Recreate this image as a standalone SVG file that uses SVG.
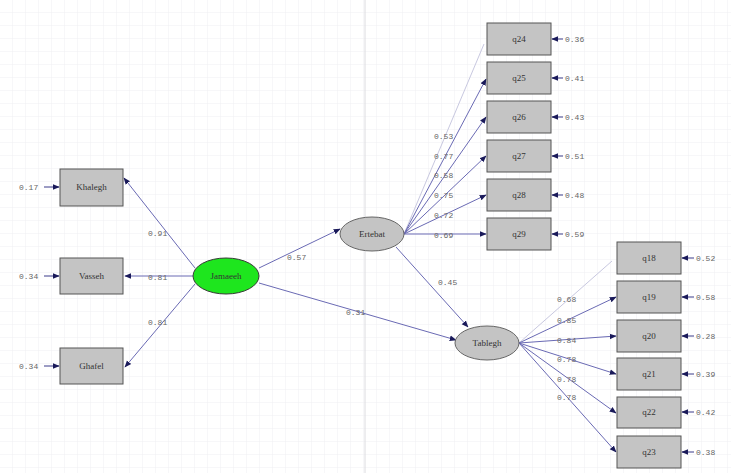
<svg xmlns="http://www.w3.org/2000/svg" width="731" height="473" viewBox="0 0 731 473">
<defs>
<pattern id="grid" width="13" height="13" patternUnits="userSpaceOnUse">
<path d="M13 0V13M0 13H13" fill="none" stroke="#efeff2" stroke-width="1"/>
</pattern>
<marker id="ah" viewBox="0 0 10 10" refX="9" refY="5" markerWidth="7" markerHeight="7" orient="auto-start-reverse" markerUnits="userSpaceOnUse">
<path d="M0 1L10 5L0 9z" fill="#1a1a5a"/>
</marker>
</defs>
<style>
.box{fill:#c4c4c4;stroke:#555;stroke-width:1}
.lat{fill:#c4c4c4;stroke:#666;stroke-width:1}
.nl{font-family:"Liberation Serif",serif;font-size:9px;fill:#333;text-anchor:middle}
.num{font-family:"Liberation Mono",monospace;font-size:8px;fill:#666}
.c{stroke:#6a6ab4;stroke-width:1;fill:none;marker-end:url(#ah)}
.e{stroke:#3a3a8a;stroke-width:1;fill:none;marker-end:url(#ah)}
</style>
<rect width="731" height="473" fill="#fff"/>
<rect width="731" height="473" fill="url(#grid)"/>
<line x1="365" y1="0" x2="365" y2="473" stroke="#dcdce0"/>

<g id="connectors">
<line class="c" x1="195" y1="268" x2="124" y2="178"/>
<line class="c" x1="193" y1="276" x2="125" y2="276"/>
<line class="c" x1="195" y1="284" x2="125" y2="367"/>
<line class="c" x1="259" y1="268" x2="340" y2="229"/>
<line class="c" x1="259" y1="283" x2="456" y2="340"/>
<line class="c" x1="396" y1="247" x2="468" y2="327"/>
<line x1="404" y1="234" x2="484" y2="44" stroke="#c8c8e0" stroke-width="1"/>
<line class="c" x1="404" y1="234" x2="486" y2="79"/>
<line class="c" x1="404" y1="234" x2="486" y2="117"/>
<line class="c" x1="404" y1="234" x2="486" y2="156"/>
<line class="c" x1="404" y1="234" x2="486" y2="195"/>
<line class="c" x1="404" y1="234" x2="486" y2="234"/>
<line x1="519" y1="343" x2="612" y2="261" stroke="#c8c8e0" stroke-width="1"/>
<line class="c" x1="519" y1="343" x2="616" y2="297"/>
<line class="c" x1="519" y1="343" x2="616" y2="336"/>
<line class="c" x1="519" y1="343" x2="616" y2="374"/>
<line class="c" x1="519" y1="343" x2="616" y2="413"/>
<line class="c" x1="519" y1="343" x2="616" y2="452"/>
<line class="e" x1="44" y1="187" x2="59" y2="187"/>
<line class="e" x1="44" y1="276" x2="59" y2="276"/>
<line class="e" x1="44" y1="366" x2="59" y2="366"/>
<line class="e" x1="563" y1="39" x2="552" y2="39"/>
<line class="e" x1="563" y1="78" x2="552" y2="78"/>
<line class="e" x1="563" y1="117" x2="552" y2="117"/>
<line class="e" x1="563" y1="156" x2="552" y2="156"/>
<line class="e" x1="563" y1="195" x2="552" y2="195"/>
<line class="e" x1="563" y1="234" x2="552" y2="234"/>
<line class="e" x1="694" y1="258" x2="682" y2="258"/>
<line class="e" x1="694" y1="297" x2="682" y2="297"/>
<line class="e" x1="694" y1="336" x2="682" y2="336"/>
<line class="e" x1="694" y1="374" x2="682" y2="374"/>
<line class="e" x1="694" y1="412" x2="682" y2="412"/>
<line class="e" x1="694" y1="452" x2="682" y2="452"/>
<text class="num" x="148" y="236">0.91</text>
<text class="num" x="148" y="280">0.81</text>
<text class="num" x="148" y="325">0.81</text>
<text class="num" x="287" y="260">0.57</text>
<text class="num" x="346" y="315">0.31</text>
<text class="num" x="438" y="285">0.45</text>
<text class="num" x="434" y="139">0.53</text>
<text class="num" x="434" y="159">0.77</text>
<text class="num" x="434" y="178">0.58</text>
<text class="num" x="434" y="198">0.75</text>
<text class="num" x="434" y="218">0.72</text>
<text class="num" x="434" y="238">0.69</text>
<text class="num" x="557" y="302">0.68</text>
<text class="num" x="557" y="323">0.85</text>
<text class="num" x="557" y="343">0.84</text>
<text class="num" x="557" y="362">0.78</text>
<text class="num" x="557" y="382">0.78</text>
<text class="num" x="557" y="400">0.78</text>
<text class="num" x="19" y="190">0.17</text>
<text class="num" x="19" y="279">0.34</text>
<text class="num" x="19" y="369">0.34</text>
<text class="num" x="565" y="42">0.36</text>
<text class="num" x="565" y="81">0.41</text>
<text class="num" x="565" y="120">0.43</text>
<text class="num" x="565" y="159">0.51</text>
<text class="num" x="565" y="198">0.48</text>
<text class="num" x="565" y="237">0.59</text>
<text class="num" x="696" y="261">0.52</text>
<text class="num" x="696" y="300">0.58</text>
<text class="num" x="696" y="339">0.28</text>
<text class="num" x="696" y="377">0.39</text>
<text class="num" x="696" y="415">0.42</text>
<text class="num" x="696" y="455">0.38</text>
</g>

<g id="Khalegh"><rect class="box" x="60" y="169" width="63" height="37"/><text class="nl" x="91.5" y="190">Khalegh</text></g>
<g id="Vasseh"><rect class="box" x="60" y="258" width="63" height="36"/><text class="nl" x="91.5" y="279">Vasseh</text></g>
<g id="Ghafel"><rect class="box" x="60" y="348" width="63" height="36"/><text class="nl" x="91.5" y="369">Ghafel</text></g>
<g id="Jamaeeh"><ellipse cx="226" cy="276" rx="33" ry="18" fill="#1ee61e" stroke="#3a3a3a"/><text class="nl" x="226" y="279">Jamaeeh</text></g>
<g id="Ertebat"><ellipse class="lat" cx="372" cy="234" rx="32" ry="17"/><text class="nl" x="372" y="237">Ertebat</text></g>
<g id="Tablegh"><ellipse class="lat" cx="487" cy="343" rx="32" ry="17"/><text class="nl" x="487" y="346">Tablegh</text></g>

<g id="q24"><rect class="box" x="487" y="23" width="64" height="32"/><text class="nl" x="519" y="42">q24</text></g>
<g id="q25"><rect class="box" x="487" y="62" width="64" height="32"/><text class="nl" x="519" y="81">q25</text></g>
<g id="q26"><rect class="box" x="487" y="101" width="64" height="32"/><text class="nl" x="519" y="120">q26</text></g>
<g id="q27"><rect class="box" x="487" y="140" width="64" height="32"/><text class="nl" x="519" y="159">q27</text></g>
<g id="q28"><rect class="box" x="487" y="179" width="64" height="32"/><text class="nl" x="519" y="198">q28</text></g>
<g id="q29"><rect class="box" x="487" y="218" width="64" height="32"/><text class="nl" x="519" y="237">q29</text></g>

<g id="q18"><rect class="box" x="617" y="242" width="64" height="32"/><text class="nl" x="649" y="261">q18</text></g>
<g id="q19"><rect class="box" x="617" y="281" width="64" height="32"/><text class="nl" x="649" y="300">q19</text></g>
<g id="q20"><rect class="box" x="617" y="320" width="64" height="32"/><text class="nl" x="649" y="339">q20</text></g>
<g id="q21"><rect class="box" x="617" y="358" width="64" height="32"/><text class="nl" x="649" y="377">q21</text></g>
<g id="q22"><rect class="box" x="617" y="397" width="64" height="31"/><text class="nl" x="649" y="415">q22</text></g>
<g id="q23"><rect class="box" x="617" y="436" width="64" height="32"/><text class="nl" x="649" y="455">q23</text></g>
</svg>
